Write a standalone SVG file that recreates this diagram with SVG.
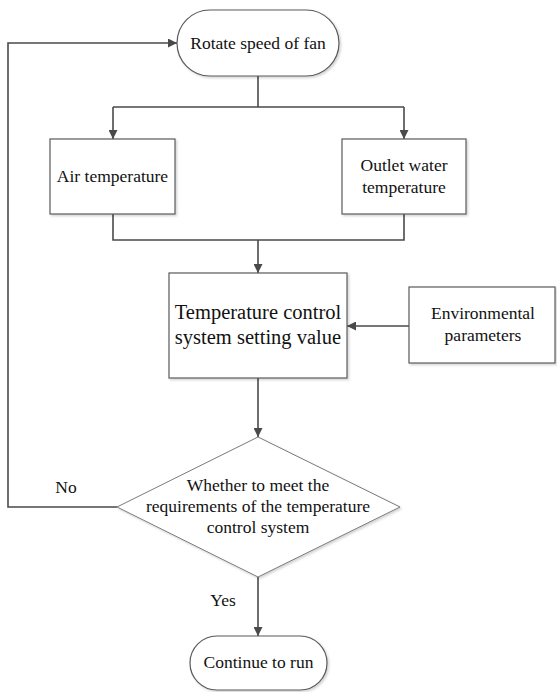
<svg xmlns="http://www.w3.org/2000/svg" width="557" height="692" viewBox="0 0 557 692">
<style>
.node{fill:#fff;stroke:#5a5a5a;stroke-width:1.2;filter:url(#sh)}
.dia{fill:#fff;stroke:#7a7a7a;stroke-width:1;filter:url(#sh)}
.ln{fill:none;stroke:#4a4a4a;stroke-width:1.6}
text{font-family:"Liberation Serif","Times New Roman",serif;fill:#111;text-anchor:middle}
.t16{font-size:17.5px}
.t20{font-size:20.5px}
</style>
<defs>
<marker id="ah" viewBox="0 0 10 10" refX="10" refY="5" markerWidth="9" markerHeight="9" markerUnits="userSpaceOnUse" orient="auto">
<path d="M0,0 L10,5 L0,10 Z" fill="#4a4a4a"/>
</marker>
<filter id="sh" x="-5%" y="-5%" width="115%" height="115%">
<feDropShadow dx="1.5" dy="1.5" stdDeviation="1" flood-color="#000" flood-opacity="0.18"/>
</filter>
</defs>
<g id="connectors">
<path class="ln" d="M258,76 V107 M113,107 H404"/>
<path class="ln" d="M113,107 V139" marker-end="url(#ah)"/>
<path class="ln" d="M404,107 V139" marker-end="url(#ah)"/>
<path class="ln" d="M113,214 V240 H404 V214 M258,240 V273" marker-end="url(#ah)"/>
<path class="ln" d="M409,326 H347" marker-end="url(#ah)"/>
<path class="ln" d="M258,378 V437" marker-end="url(#ah)"/>
<path class="ln" d="M117,507 H8 V43 H177" marker-end="url(#ah)"/>
<path class="ln" d="M258,577 V636" marker-end="url(#ah)"/>
<text class="t16" x="66" y="493">No</text>
<text class="t16" x="223" y="606">Yes</text>
</g>
<g id="start">
<rect class="node" x="177" y="10" width="162" height="66" rx="33"/>
<text class="t16" x="258" y="49">Rotate speed of fan</text>
</g>
<g id="air">
<rect class="node" x="50" y="139" width="125" height="75"/>
<text class="t16" x="112.5" y="182">Air temperature</text>
</g>
<g id="outlet">
<rect class="node" x="342" y="139" width="124" height="75"/>
<text class="t16" x="404" y="171">Outlet water</text>
<text class="t16" x="404" y="193">temperature</text>
</g>
<g id="setting">
<rect class="node" x="169" y="273" width="178" height="105"/>
<text class="t20" x="258" y="319">Temperature control</text>
<text class="t20" x="258" y="344">system setting value</text>
</g>
<g id="env">
<rect class="node" x="409" y="287" width="146" height="76"/>
<text class="t16" x="483" y="319">Environmental</text>
<text class="t16" x="483" y="341">parameters</text>
</g>
<g id="decision">
<polygon class="dia" points="258,437 400,507 258,577 117,507"/>
<text class="t16" x="258" y="491">Whether to meet the</text>
<text class="t16" x="258" y="512">requirements of the temperature</text>
<text class="t16" x="258" y="533">control system</text>
</g>
<g id="end">
<rect class="node" x="190" y="636" width="137" height="54" rx="27"/>
<text class="t16" x="258.5" y="668">Continue to run</text>
</g>
</svg>
